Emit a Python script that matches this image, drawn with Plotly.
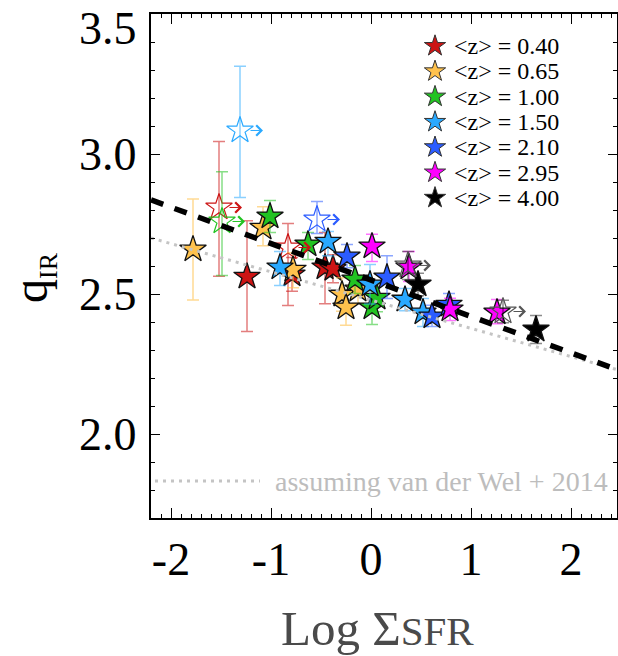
import plotly.graph_objects as go

# ---------------- data ----------------
z_labels = ["0.40", "0.65", "1.00", "1.50", "2.10", "2.95", "4.00"]
z_colors = ["#cc1414", "#ffc24d", "#22c322", "#2aa9ff", "#2b5cff", "#ff00ff", "#000000"]
err_colors = ["rgba(204,20,20,0.55)", "rgba(255,194,77,0.6)", "rgba(34,195,34,0.55)",
              "rgba(42,169,255,0.55)", "rgba(43,92,255,0.55)", "rgba(255,0,255,0.55)",
              "rgba(0,0,0,0.45)"]
lim_colors = ["#cc1414", "#ffc24d", "#22c322", "#2aa9ff", "#2b5cff", "#ff00ff", "#555555"]

# detections (filled stars): Log Sigma_SFR, q_IR, +err, -err  (one list per redshift bin)
det_x = [
    [-1.24, -0.79, -0.46, -0.38],
    [-1.78, -1.08, -0.78, -0.29, -0.25, -0.13],
    [-1.01, -0.63, -0.16, 0.01, 0.06],
    [-0.91, -0.43, -0.01, 0.34, 0.52],
    [-0.24, 0.16, 0.61, 0.78],
    [0.01, 0.38, 0.79, 1.26],
    [0.47, 1.65],
]
det_q = [
    [2.562, 2.570, 2.595, 2.590],
    [2.659, 2.737, 2.587, 2.498, 2.452, 2.516],
    [2.777, 2.677, 2.552, 2.452, 2.487],
    [2.595, 2.687, 2.534, 2.480, 2.434],
    [2.634, 2.559, 2.420, 2.462],
    [2.670, 2.595, 2.445, 2.434],
    [2.534, 2.373],
]
det_eu = [
    [0.20, 0.06, 0.125, 0.05],
    [0.18, 0.075, 0.06, 0.06, 0.05, 0.05],
    [0.057, 0.043, 0.05, 0.06, 0.05],
    [0.057, 0.036, 0.071, 0.04, 0.05],
    [0.043, 0.078, 0.04, 0.04],
    [0.043, 0.057, 0.04, 0.046],
    [0.04, 0.05],
]
det_ed = [
    [0.196, 0.06, 0.13, 0.05],
    [0.18, 0.065, 0.065, 0.06, 0.064, 0.05],
    [0.057, 0.054, 0.05, 0.061, 0.05],
    [0.065, 0.05, 0.07, 0.04, 0.05],
    [0.04, 0.075, 0.036, 0.04],
    [0.054, 0.05, 0.04, 0.04],
    [0.04, 0.05],
]

# lower limits in Sigma_SFR (open stars with arrows)
lim_x = [[-1.52, -0.83], [], [-1.49], [-1.31], [-0.54], [], [0.37, 1.32]]
lim_q = [[2.809, 2.666], [], [2.759], [3.084], [2.766], [], [2.602, 2.4375]]
lim_eu = [[0.236, 0.086], [], [0.178], [0.229], [0.064], [], [0.05, 0.04]]
lim_ed = [[0.246, 0.207], [], [0.193], [0.239], [0.05], [], [0.05, 0.04]]

# relations
fit_x = [-2.2, 2.46]
fit_q = [2.836, 2.23]           # best-fit (dashed)
vdw_q = [2.700, 2.23]           # assuming van der Wel + 2014 (dotted)

x_ticks = [-2, -1, 0, 1, 2]
x_tick_text = ["-2", "-1", "0", "1", "2"]
y_ticks = [2.0, 2.5, 3.0, 3.5]
y_tick_text = ["2.0", "2.5", "3.0", "3.5"]

# ---------------- layout helpers ----------------
W, H = 618, 656
L, R, T, B = 151, 1, 14, 138
PW, PH = W - L - R, H - T - B
XR = [-2.2, 2.46]
YR = [1.70, 3.50]
FONT = "Liberation Serif"
ARROW_LEN = 0.23


def pxx(px):
    return (px - L) / PW


def pxy(py):
    return (H - B - py) / PH


fig = go.Figure()
annotations = []

for i, lab in enumerate(z_labels):
    fig.add_trace(go.Scatter(
        x=det_x[i], y=det_q[i], mode="markers", showlegend=False,
        marker=dict(symbol="star", size=20, color=z_colors[i],
                    line=dict(color="#111111", width=1.3)),
        error_y=dict(type="data", symmetric=False, array=det_eu[i], arrayminus=det_ed[i],
                     color=err_colors[i], thickness=1.5, width=6),
    ))
    if lim_x[i]:
        fig.add_trace(go.Scatter(
            x=lim_x[i], y=lim_q[i], mode="markers", showlegend=False,
            marker=dict(symbol="star-open", size=20, color=lim_colors[i],
                        line=dict(width=1.2)),
            error_y=dict(type="data", symmetric=False, array=lim_eu[i], arrayminus=lim_ed[i],
                         color=err_colors[i], thickness=1.5, width=6),
        ))
        for xv, qv in zip(lim_x[i], lim_q[i]):
            annotations.append(dict(
                x=xv + ARROW_LEN, y=qv, xref="x", yref="y",
                ax=xv, ay=qv, axref="x", ayref="y", text="",
                showarrow=True, arrowhead=4, arrowsize=2, arrowwidth=1,
                arrowcolor=lim_colors[i], startstandoff=9))

# relations on top
fig.add_trace(go.Scatter(x=fit_x, y=vdw_q, mode="lines", showlegend=False,
                         line=dict(color="#c4c4c4", width=3, dash="3px,5px")))
fig.add_trace(go.Scatter(x=fit_x, y=fit_q, mode="lines", showlegend=False,
                         line=dict(color="black", width=5.5, dash="13px,12px")))

# manual legend (pixel-coordinate overlay axes)
leg_px = [435] * len(z_labels)
leg_py = [46 + 25.3 * k for k in range(len(z_labels))]
fig.add_trace(go.Scatter(
    x=leg_px, y=leg_py, xaxis="x2", yaxis="y2", mode="markers", showlegend=False,
    marker=dict(symbol="star", size=16, color=z_colors, line=dict(color="#333333", width=1)),
))
for k, lab in enumerate(z_labels):
    annotations.append(dict(
        x=pxx(452), y=pxy(leg_py[k]), xref="paper", yref="paper",
        text="&lt;z&gt; = " + lab, showarrow=False, xanchor="left", yanchor="middle",
        font=dict(family=FONT, size=24, color="black")))

# van der Wel note
fig.add_shape(type="line", xref="paper", yref="paper",
              x0=pxx(155), x1=pxx(260), y0=pxy(481), y1=pxy(481),
              line=dict(color="#c4c4c4", width=3, dash="3px,5px"))
annotations.append(dict(
    x=pxx(273), y=pxy(481), xref="paper", yref="paper",
    text="assuming van der Wel + 2014", showarrow=False, xanchor="left", yanchor="middle",
    font=dict(family=FONT, size=28, color="#bdbdbd")))

# y tick labels
for v, t in zip(y_ticks, y_tick_text):
    py = H - B - (v - YR[0]) / (YR[1] - YR[0]) * PH
    py = max(py, 28)
    annotations.append(dict(
        x=pxx(139), y=pxy(py), xref="paper", yref="paper", text=t, showarrow=False,
        xanchor="right", yanchor="middle", font=dict(family=FONT, size=46, color="black")))

# axis titles
annotations.append(dict(
    x=pxx(33), y=pxy(278), xref="paper", yref="paper",
    text="q<sub><span style='font-size:26px'>IR</span></sub>",
    showarrow=False, textangle=-90, xanchor="center", yanchor="middle",
    font=dict(family=FONT, size=48, color="black")))
annotations.append(dict(
    x=pxx(377), y=pxy(628), xref="paper", yref="paper",
    text="Log Σ<span style='font-size:41px'>SFR</span>",
    showarrow=False, xanchor="center", yanchor="middle",
    font=dict(family=FONT, size=49, color="#4a4a4a")))

axis_common = dict(showgrid=False, zeroline=False, showline=True, linecolor="black",
                   linewidth=1.5, mirror="allticks", ticks="inside", tickcolor="black",
                   tickwidth=1)

fig.update_layout(
    width=W, height=H, margin=dict(l=L, r=R, t=T, b=B, autoexpand=False),
    paper_bgcolor="white", plot_bgcolor="white", showlegend=False,
    xaxis=dict(range=XR, tickmode="array", tickvals=x_ticks, ticktext=x_tick_text,
               ticklen=10, tickfont=dict(family=FONT, size=46, color="black"),
               ticklabelstandoff=0,
               minor=dict(ticks="inside", ticklen=4, tickmode="linear", tick0=0, dtick=0.1,
                          tickcolor="black", tickwidth=1, showgrid=False),
               **axis_common),
    yaxis=dict(range=YR, tickmode="array", tickvals=y_ticks, showticklabels=False,
               ticklen=9,
               minor=dict(ticks="inside", ticklen=4.5, tickmode="linear", tick0=0, dtick=0.1,
                          tickcolor="black", tickwidth=1, showgrid=False),
               **axis_common),
    xaxis2=dict(overlaying="x", anchor="y2", range=[L, W - R], visible=False),
    yaxis2=dict(overlaying="y", anchor="x2", range=[H - B, T], visible=False),
    annotations=annotations,
)

fig.write_html("out.html")
